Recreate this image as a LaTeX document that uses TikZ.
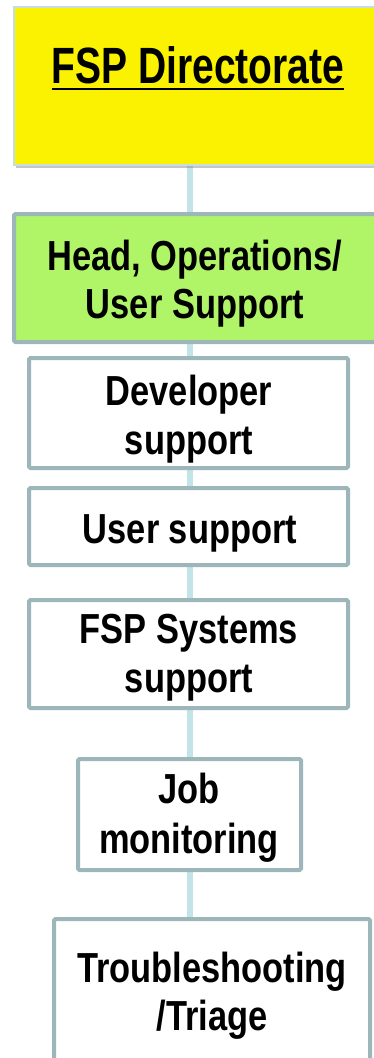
\documentclass[tikz,border=0pt]{standalone}
\usepackage{fontspec}
\newfontfamily\bodyfont{Liberation Sans}[FakeStretch=0.82]
\newfontfamily\titlefont{Liberation Sans}[FakeStretch=0.765]
\usetikzlibrary{shadows,backgrounds}
\definecolor{ylw}{HTML}{FAF200}
\definecolor{grn}{HTML}{B0F468}
\definecolor{bord}{HTML}{9DB6BA}
\definecolor{conn}{HTML}{C2E4E8}
\definecolor{ybord}{HTML}{C2DFE8}
\newcommand\myul[1]{\setbox0\hbox{#1}\rlap{\rule[-7.3pt]{\wd0}{2.6pt}}\box0}
\tikzset{
  box/.style={draw=bord, line width=4pt, fill=white, rectangle, rounded corners=1.5pt,
    outer sep=0pt, inner sep=0pt, anchor=north west},
  conline/.style={draw=conn, line width=6pt},
  lbl/.style={anchor=base, inner sep=0pt, font=\bodyfont\bfseries\fontsize{42}{48}\selectfont},
}
\begin{document}
\begin{tikzpicture}[x=1pt,y=-1pt]
\useasboundingbox (0,0) rectangle (374,1058);
\clip (0,0) rectangle (374,1058);
% boxes (positions = outer edge + half line width)
\node[box, draw=ybord, line width=2pt, fill=ylw, rounded corners=0pt,
  drop shadow={opacity=0.45, shadow xshift=2pt, shadow yshift=-3pt},
  minimum width=368pt, minimum height=158pt] (dir) at (14,7) {};
\node[box, fill=grn, minimum width=362pt, minimum height=128pt] (head) at (14,214) {};
\node[box, minimum width=319pt, minimum height=110pt] (dev) at (29,358) {};
\node[box, minimum width=319pt, minimum height=77pt] (usr) at (29,488) {};
\node[box, minimum width=319pt, minimum height=108pt] (sys) at (29,600) {};
\node[box, minimum width=223pt, minimum height=111pt] (job) at (78,759) {};
\node[box, minimum width=316pt, minimum height=160pt] (tri) at (54,919) {};
% connectors
\begin{scope}[on background layer]
\draw[conline] (dir.south -| job.center) -- (head.north -| job.center);
\draw[conline] (head.south -| job.center) -- (dev.north -| job.center);
\draw[conline] (dev.south -| job.center) -- (usr.north -| job.center);
\draw[conline] (usr.south -| job.center) -- (sys.north -| job.center);
\draw[conline] (sys.south -| job.center) -- (job.north);
\draw[conline] (job.south) -- (tri.north -| job.center);
\end{scope}
% texts
\node[anchor=base, inner sep=0pt, font=\titlefont\bfseries\fontsize{51}{60}\selectfont] (t1) at (198,83) {\myul{FSP Directorate}};
\node[lbl] (t2a) at (195,270) {Head, Operations/};
\node[lbl] (t2b) at (195,318) {User Support};
\node[lbl] (t3a) at (189,405) {Developer};
\node[lbl] (t3b) at (189,454) {support};
\node[lbl] (t4) at (190,543) {User support};
\node[lbl] (t5a) at (189,643) {FSP Systems};
\node[lbl] (t5b) at (189,692) {support};
\node[lbl] (t6a) at (189,803) {Job};
\node[lbl] (t6b) at (189,853) {monitoring};
\node[lbl] (t7a) at (212,982) {Troubleshooting};
\node[lbl] (t7b) at (212,1030) {/Triage};
\end{tikzpicture}
\end{document}
